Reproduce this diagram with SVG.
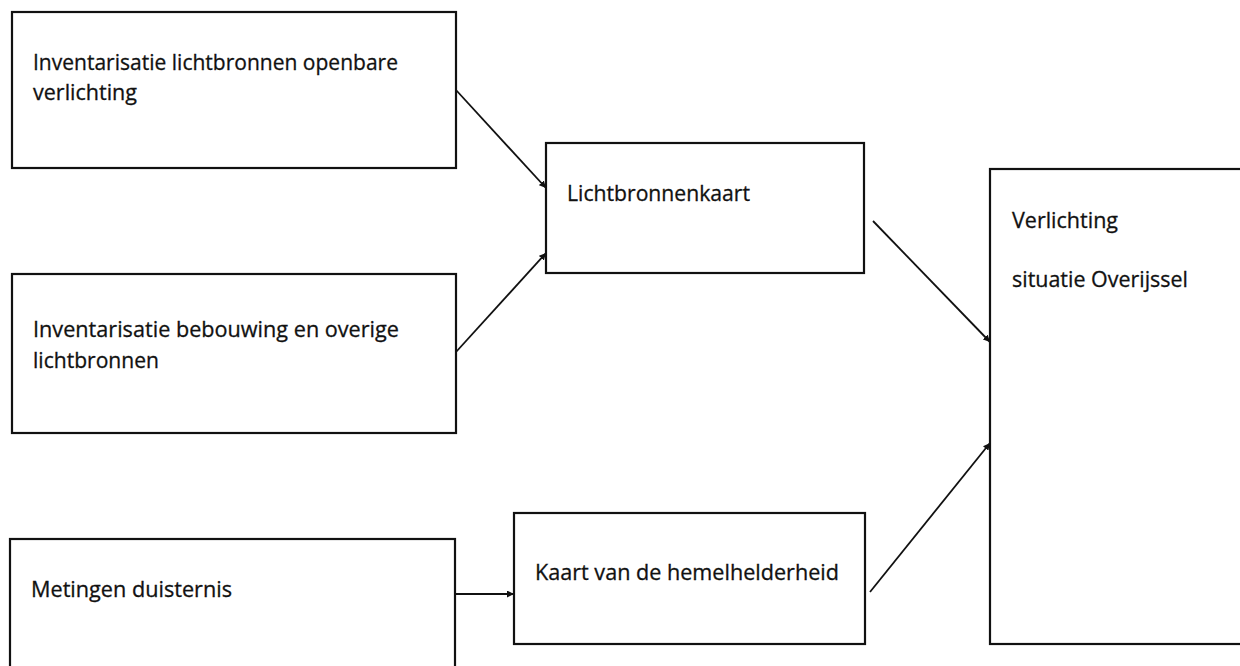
<svg xmlns="http://www.w3.org/2000/svg" width="1240" height="666" viewBox="0 0 1240 666">
<style>
.box{fill:#fff;stroke:#111;stroke-width:2.2}
.lbl{font-family:"Open Sans","Noto Sans",sans-serif;font-size:22px;fill:#111;stroke:#111;stroke-width:0.3}
.con{stroke:#111;stroke-width:1.8;fill:none}
</style>
<defs>
<marker id="ah" viewBox="0 0 10 10" refX="10" refY="5" markerWidth="7" markerHeight="7" orient="auto" markerUnits="userSpaceOnUse">
<path d="M0,0 L10,5 L0,10 z" fill="#111"/>
</marker>
</defs>
<rect width="1240" height="666" fill="#fff"/>
<g id="n1">
<rect class="box" x="12" y="12" width="444" height="156"/>
<text class="lbl" x="33" y="70" textLength="365" lengthAdjust="spacingAndGlyphs">Inventarisatie lichtbronnen openbare</text>
<text class="lbl" x="33" y="100" textLength="104" lengthAdjust="spacingAndGlyphs">verlichting</text>
</g>
<g id="n2">
<rect class="box" x="546" y="143" width="318" height="130"/>
<text class="lbl" x="567" y="201" textLength="183" lengthAdjust="spacingAndGlyphs">Lichtbronnenkaart</text>
</g>
<g id="n3">
<rect class="box" x="12" y="274" width="444" height="159"/>
<text class="lbl" x="33" y="337" textLength="366" lengthAdjust="spacingAndGlyphs">Inventarisatie bebouwing en overige</text>
<text class="lbl" x="33" y="368" textLength="126" lengthAdjust="spacingAndGlyphs">lichtbronnen</text>
</g>
<g id="n4">
<rect class="box" x="10" y="539" width="445" height="140"/>
<text class="lbl" x="31" y="597" textLength="201" lengthAdjust="spacingAndGlyphs">Metingen duisternis</text>
</g>
<g id="n5">
<rect class="box" x="514" y="513" width="351" height="131"/>
<text class="lbl" x="535" y="580" textLength="304" lengthAdjust="spacingAndGlyphs">Kaart van de hemelhelderheid</text>
</g>
<g id="n6">
<rect class="box" x="990" y="169" width="260" height="475"/>
<text class="lbl" x="1012" y="228" textLength="106" lengthAdjust="spacingAndGlyphs">Verlichting</text>
<text class="lbl" x="1012" y="287" textLength="176" lengthAdjust="spacingAndGlyphs">situatie Overijssel</text>
</g>
<g id="connectors">
<line class="con" x1="456" y1="90" x2="546" y2="188" marker-end="url(#ah)"/>
<line class="con" x1="456" y1="352" x2="546" y2="253" marker-end="url(#ah)"/>
<line class="con" x1="455" y1="594" x2="514" y2="594" marker-end="url(#ah)"/>
<line class="con" x1="873" y1="221" x2="990" y2="342" marker-end="url(#ah)"/>
<line class="con" x1="870" y1="592" x2="990" y2="443" marker-end="url(#ah)"/>
</g>
</svg>
